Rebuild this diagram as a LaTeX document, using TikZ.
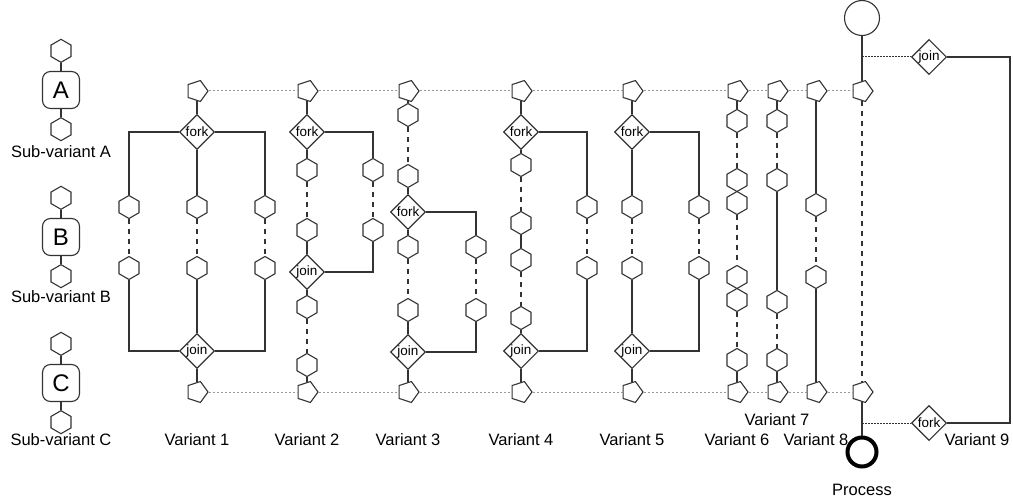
\documentclass[tikz,border=0pt]{standalone}
\usepackage{fontspec}
\setmainfont{Liberation Sans}
\usetikzlibrary{shapes.geometric}
\usetikzlibrary{positioning}

\begin{document}
\begin{tikzpicture}[
		x=1pt,y=-1pt,
		line width=1.1pt,draw=black!80,
		hexa/.style={draw,regular polygon,regular polygon sides=6,shape border rotate=90,minimum size=23pt,inner sep=0pt},
		penta/.style={draw,regular polygon,regular polygon sides=5,shape border rotate=-90,minimum size=22pt,inner sep=0pt},
		gate/.style={draw,diamond,minimum size=35pt,inner sep=0pt,font=\fontsize{13.5}{13.5}\selectfont},
		subvar/.style={draw,rounded corners=8pt,minimum size=37pt,inner sep=0pt,font=\fontsize{24}{24}\selectfont},
		caption/.style={font=\fontsize{16.5}{16.5}\selectfont,inner sep=0pt},
		gap/.style={dash pattern=on 5pt off 5pt},
		lane/.style={draw=black!40,dash pattern=on 2pt off 2pt,line width=1pt},
		link/.style={dash pattern=on 1.5pt off 1.5pt,line width=1pt},
		start/.style={draw,circle,minimum size=35pt,inner sep=0pt},
		stop/.style={draw=black,circle,minimum size=29pt,inner sep=0pt,line width=4pt}
	]
	\useasboundingbox (0,0) rectangle (1013,503);

	\foreach \s/\y/\c in {A/90/152,B/237/297,C/383/440}{
		\node[subvar] (sub\s) at (61,\y) {\s};
		\node[hexa,above=8pt of sub\s] (sub\s in) {};
		\node[hexa,below=8pt of sub\s] (sub\s out) {};
		\draw (sub\s in) -- (sub\s) -- (sub\s out);
		\node[caption] (cap\s) at (61,\c) {Sub-variant \s};
	}

	\node[penta] (v1in) at (197,91) {};
	\node[gate] (v1fork) at (197,132) {fork};
	\node[gate] (v1join) at (197,351) {join};
	\node[penta] (v1out) at (197,392) {};
	\foreach \b/\x in {a/129,b/197,c/265}{
		\node[hexa] (v1\b1) at (\x,207) {};
		\node[hexa] (v1\b2) at (\x,268) {};
		\draw[gap] (v1\b1) -- (v1\b2);
	}
	\draw (v1in) -- (v1fork) -- (v1b1);
	\draw (v1fork) -| (v1a1);
	\draw (v1fork) -| (v1c1);
	\draw (v1b2) -- (v1join) -- (v1out);
	\draw (v1a2) |- (v1join);
	\draw (v1c2) |- (v1join);

	\node[penta] (v2in) at (307,91) {};
	\node[gate] (v2fork) at (307,132) {fork};
	\node[hexa] (v2a1) at (307,170) {};
	\node[hexa] (v2a2) at (307,230) {};
	\node[hexa] (v2b1) at (373,170) {};
	\node[hexa] (v2b2) at (373,230) {};
	\node[gate] (v2join) at (307,272) {join};
	\node[hexa] (v2a3) at (307,307) {};
	\node[hexa] (v2a4) at (307,365) {};
	\node[penta] (v2out) at (307,392) {};
	\draw (v2in) -- (v2fork) -- (v2a1);
	\draw (v2fork) -| (v2b1);
	\draw[gap] (v2a1) -- (v2a2);
	\draw[gap] (v2b1) -- (v2b2);
	\draw (v2a2) -- (v2join) -- (v2a3);
	\draw (v2b2) |- (v2join);
	\draw[gap] (v2a3) -- (v2a4);
	\draw (v2a4) -- (v2out);

	\node[penta] (v3in) at (408,91) {};
	\node[hexa] (v3a1) at (408,115) {};
	\node[hexa] (v3a2) at (408,176) {};
	\node[gate] (v3fork) at (408,212) {fork};
	\node[hexa] (v3a3) at (408,247) {};
	\node[hexa] (v3a4) at (408,310) {};
	\node[hexa] (v3b1) at (476,247) {};
	\node[hexa] (v3b2) at (476,310) {};
	\node[gate] (v3join) at (408,352) {join};
	\node[penta] (v3out) at (408,392) {};
	\draw (v3in) -- (v3a1);
	\draw[gap] (v3a1) -- (v3a2);
	\draw (v3a2) -- (v3fork) -- (v3a3);
	\draw (v3fork) -| (v3b1);
	\draw[gap] (v3a3) -- (v3a4);
	\draw[gap] (v3b1) -- (v3b2);
	\draw (v3a4) -- (v3join) -- (v3out);
	\draw (v3b2) |- (v3join);

	\node[penta] (v4in) at (521,91) {};
	\node[gate] (v4fork) at (521,132) {fork};
	\node[hexa] (v4a1) at (521,165) {};
	\node[hexa] (v4a2) at (521,223) {};
	\node[hexa] (v4a3) at (521,260) {};
	\node[hexa] (v4a4) at (521,318) {};
	\node[hexa] (v4b1) at (587,207) {};
	\node[hexa] (v4b2) at (587,268) {};
	\node[gate] (v4join) at (521,351) {join};
	\node[penta] (v4out) at (521,392) {};
	\draw (v4in) -- (v4fork) -- (v4a1);
	\draw (v4fork) -| (v4b1);
	\draw[gap] (v4a1) -- (v4a2);
	\draw (v4a2) -- (v4a3);
	\draw[gap] (v4a3) -- (v4a4);
	\draw[gap] (v4b1) -- (v4b2);
	\draw (v4a4) -- (v4join) -- (v4out);
	\draw (v4b2) |- (v4join);

	\node[penta] (v5in) at (632,91) {};
	\node[gate] (v5fork) at (632,132) {fork};
	\node[gate] (v5join) at (632,351) {join};
	\node[penta] (v5out) at (632,392) {};
	\foreach \b/\x in {a/632,b/699}{
		\node[hexa] (v5\b1) at (\x,207) {};
		\node[hexa] (v5\b2) at (\x,268) {};
		\draw[gap] (v5\b1) -- (v5\b2);
	}
	\draw (v5in) -- (v5fork) -- (v5a1);
	\draw (v5fork) -| (v5b1);
	\draw (v5a2) -- (v5join) -- (v5out);
	\draw (v5b2) |- (v5join);

	\node[penta] (v6in) at (737,91) {};
	\node[penta] (v6out) at (737,392) {};
	\foreach \n/\y in {1/121,2/180,3/203,4/277,5/300,6/360}
		\node[hexa] (v6h\n) at (737,\y) {};
	\foreach \a/\b/\s in {in/h1/solid,h1/h2/gap,h2/h3/solid,h3/h4/gap,h4/h5/solid,h5/h6/gap,h6/out/solid}
		\draw[\s] (v6\a) -- (v6\b);

	\node[penta] (v7in) at (777,91) {};
	\node[penta] (v7out) at (777,392) {};
	\foreach \n/\y in {1/121,2/180,3/302,4/360}
		\node[hexa] (v7h\n) at (777,\y) {};
	\foreach \a/\b/\s in {in/h1/solid,h1/h2/gap,h2/h3/solid,h3/h4/gap,h4/out/solid}
		\draw[\s] (v7\a) -- (v7\b);

	\node[penta] (v8in) at (816,91) {};
	\node[penta] (v8out) at (816,392) {};
	\node[hexa] (v8h1) at (816,205) {};
	\node[hexa] (v8h2) at (816,277) {};
	\draw (v8in) -- (v8h1);
	\draw[gap] (v8h1) -- (v8h2);
	\draw (v8h2) -- (v8out);

	\node[start] (v9start) at (862,18) {};
	\node[penta] (v9in) at (862,91) {};
	\node[penta] (v9out) at (862,392) {};
	\node[stop] (v9end) at (862,452) {};
	\node[gate] (v9join) at (929,57) {join};
	\node[gate] (v9fork) at (929,423) {fork};
	\coordinate (v9tap) at (862,57);
	\coordinate (v9split) at (862,423);
	\coordinate (v9loop) at (1010,57);
	\draw (v9start) -- (v9in);
	\draw[gap] (v9in) -- (v9out);
	\draw (v9out) -- (v9end);
	\draw[link] (v9tap) -- (v9join);
	\draw[link] (v9split) -- (v9fork);
	\draw (v9join) -- (v9loop) |- (v9fork);

	\draw[lane] (v1in) -- (v2in) -- (v3in) -- (v4in) -- (v5in) -- (v6in) -- (v7in) -- (v8in) -- (v9in);
	\draw[lane] (v1out) -- (v2out) -- (v3out) -- (v4out) -- (v5out) -- (v6out) -- (v7out) -- (v8out) -- (v9out);

	\foreach \n/\x in {1/197,2/307,3/408,4/521,5/632,6/737,8/816,9/977}
		\node[caption] (var\n) at (\x,440) {Variant \n};
	\node[caption] (var7) at (777,420) {Variant 7};
	\node[caption] (proc) at (862,490) {Process};
\end{tikzpicture}
\end{document}
